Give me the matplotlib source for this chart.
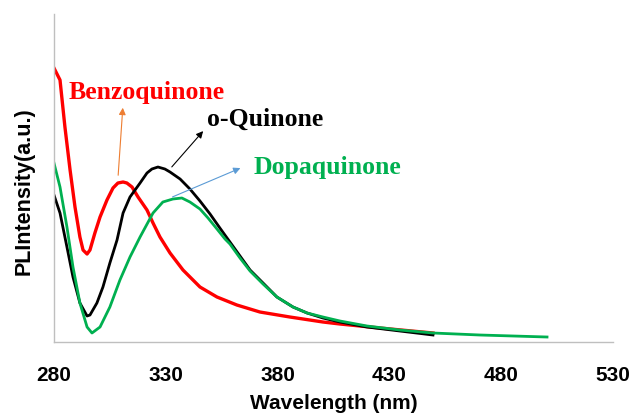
import numpy as np
import matplotlib
matplotlib.use("Agg")
import matplotlib.pyplot as plt

# PL emission spectra (wavelength in nm, intensity in arbitrary units)
benzo_wl = [280, 282.7, 284.9, 287.2, 289.4, 291.6, 293.0, 294.8, 296.1, 298.3, 300.6, 303.7,
            306.4, 308.6, 310.9, 312.6, 314.9, 317.6, 321.6, 324.3, 327.4, 331.9, 337.7, 345.3,
            352.9, 361.8, 372.1, 385.5, 400.3, 407.9, 425.8, 449.5]
benzo_int = [274, 262, 215, 172, 135, 105, 92, 88, 92, 109, 125, 142,
             154, 159, 160, 159, 155, 145, 132, 119, 105, 89, 72, 55,
             45, 37, 30, 25, 20, 18, 14, 9]

oq_wl = [280, 282.7, 285.8, 288.5, 291.6, 294.8, 296.1, 299.2, 301.9, 305.0, 308.2, 310.9,
         314.0, 318.5, 321.6, 323.8, 326.5, 329.6, 331.9, 336.4, 340.8, 345.3, 349.8, 354.2,
         358.7, 363.2, 367.7, 373.5, 379.7, 386.9, 393.2, 400.3, 407.9, 420.0, 434.7, 449.5]
oq_int = [147, 129, 95, 65, 39, 26, 27, 39, 55, 79, 102, 129,
          145, 159, 169, 173, 175, 173, 170, 163, 153, 141, 128, 114,
          100, 86, 72, 59, 45, 35, 29, 24, 20, 15, 11, 7]

dopa_wl = [280, 282.7, 285.8, 288.5, 291.6, 294.8, 297.0, 300.6, 305.0, 309.5, 314.0, 318.5,
           324.3, 328.7, 333.2, 337.2, 340.8, 345.3, 348.9, 352.9, 356.5, 358.7, 363.2, 367.7,
           373.5, 379.7, 386.9, 393.2, 400.3, 407.9, 420.0, 434.7, 449.5, 470.5, 500.5]
dopa_int = [179, 155, 115, 75, 39, 15, 9, 15, 35, 62, 85, 105,
            129, 140, 143, 144, 140, 133, 124, 113, 103, 98, 84, 71,
            58, 45, 35, 29, 25, 21, 16, 12, 9, 7, 5]

xticks = [280, 330, 380, 430, 480, 530]


def px_to_data(px, py):
    return 280 + (px - 54) * 250 / 559, 342 - py


fig = plt.figure(figsize=(6.32, 4.18), dpi=100)
ax = fig.add_axes([0.0854, 0.1818, 0.8845, 0.7847])

ax.plot(benzo_wl, benzo_int, color="#FF0000", lw=2.4, solid_joinstyle="round")
ax.plot(oq_wl, oq_int, color="#000000", lw=2.0, solid_joinstyle="round")
ax.plot(dopa_wl, dopa_int, color="#00B050", lw=2.0, solid_joinstyle="round")

ax.set_xlim(280, 530)
ax.set_ylim(0, 328)
ax.set_xticks(xticks)
ax.set_xticklabels([str(t) for t in xticks], fontsize=15, fontweight="bold",
                   family="Liberation Sans")
ax.tick_params(axis="x", length=0, pad=17)
ax.set_yticks([])
for side in ["top", "right"]:
    ax.spines[side].set_visible(False)
for side in ["left", "bottom"]:
    ax.spines[side].set_color("#BFBFBF")
    ax.spines[side].set_linewidth(1.0)

ax.set_xlabel("Wavelength (nm)", fontsize=15, fontweight="bold",
              family="Liberation Sans", labelpad=7)
ax.set_ylabel("PLIntensity(a.u.)", fontsize=15.5, fontweight="bold",
              family="Liberation Sans")
ax.yaxis.set_label_coords(-0.034, 0.46)

label_font = dict(fontsize=18.5, fontweight="bold", family="Liberation Serif")

ax.text(*px_to_data(69, 92), "Benzoquinone", color="#FF0000", va="center", ha="left", **label_font)
ax.text(*px_to_data(207, 119), "o-Quinone", color="#000000", va="center", ha="left", **label_font)
ax.text(*px_to_data(254, 167), "Dopaquinone", color="#00B050", va="center", ha="left", **label_font)

ax.annotate("", xy=px_to_data(123, 105), xytext=px_to_data(118, 178),
            arrowprops=dict(arrowstyle="-|>", color="#ED7D31", lw=0.8, mutation_scale=10))
ax.annotate("", xy=px_to_data(205, 129), xytext=px_to_data(170, 169),
            arrowprops=dict(arrowstyle="-|>", color="#000000", lw=0.8, mutation_scale=10))
ax.annotate("", xy=px_to_data(243, 167), xytext=px_to_data(170, 198),
            arrowprops=dict(arrowstyle="-|>", color="#5B9BD5", lw=0.8, mutation_scale=10))

fig.savefig("out.png", dpi=100)
